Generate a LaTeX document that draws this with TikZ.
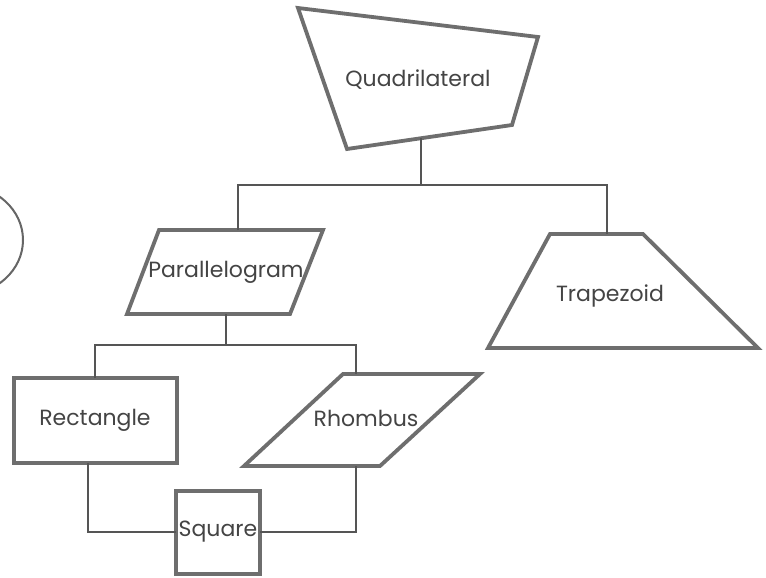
\documentclass[tikz,border=0pt]{standalone}
\usepackage{fontspec}
\setmainfont{Poppins}
\definecolor{shapegray}{HTML}{6E6E6E}
\definecolor{conngray}{HTML}{555555}
\definecolor{textgray}{HTML}{444444}
\definecolor{arcgray}{HTML}{666666}
\begin{document}
\begin{tikzpicture}[x=1pt,y=-1pt,
  shapeline/.style={draw=shapegray, line width=3.8pt, line join=miter},
  conn/.style={draw=conngray, line width=1.8pt},
  lbl/.style={text=textgray, font=\fontsize{22}{26}\selectfont, inner sep=0pt},
  arcline/.style={draw=arcgray, line width=2pt}]
\useasboundingbox (0,0) rectangle (766,578);
\fill[white] (0,0) rectangle (766,578);
% partial circle at the left edge
\draw[arcline] (-38,240) ellipse [x radius=61, y radius=55];
% shapes
\draw[shapeline] (298,8) -- (538,37) -- (512,125) -- (347,149) -- cycle;
\draw[shapeline] (159,230) -- (323,230) -- (290,314) -- (127,314) -- cycle;
\draw[shapeline] (550,234) -- (643,234) -- (758,348) -- (488,348) -- cycle;
\draw[shapeline] (14,378) rectangle (177,463);
\draw[shapeline] (343,374) -- (480,374) -- (380,466) -- (244,466) -- cycle;
\draw[shapeline] (176,491) rectangle (260,574);
% labels
\node[lbl] (quad) at (418,80) {Quadrilateral};
\node[lbl] (para) at (226,272) {Parallelogram};
\node[lbl] (trap) at (610,296) {Trapezoid};
\node[lbl] (rect) at (95,420) {Rectangle};
\node[lbl] (rhom) at (366,418) {Rhombus};
\node[lbl] (squa) at (218,532) {Square};
% connector anchor points
\coordinate (qb) at (421,138.2);
\coordinate (j1) at (421,185);
\coordinate (pt) at (238,230);
\coordinate (tt) at (607,234);
\coordinate (pb) at (226,314);
\coordinate (j2) at (226,345);
\coordinate (rt) at (95,378);
\coordinate (ht) at (356,374);
\coordinate (rb) at (88,463);
\coordinate (hb) at (356,466);
\coordinate (sl) at (176,532);
\coordinate (sr) at (260,532);
% connectors
\draw[conn] (qb) -- (j1);
\draw[conn] (pt) |- (j1) -| (tt);
\draw[conn] (pb) -- (j2);
\draw[conn] (rt) |- (j2) -| (ht);
\draw[conn] (rb) |- (sl);
\draw[conn] (hb) |- (sr);
\end{tikzpicture}
\end{document}
